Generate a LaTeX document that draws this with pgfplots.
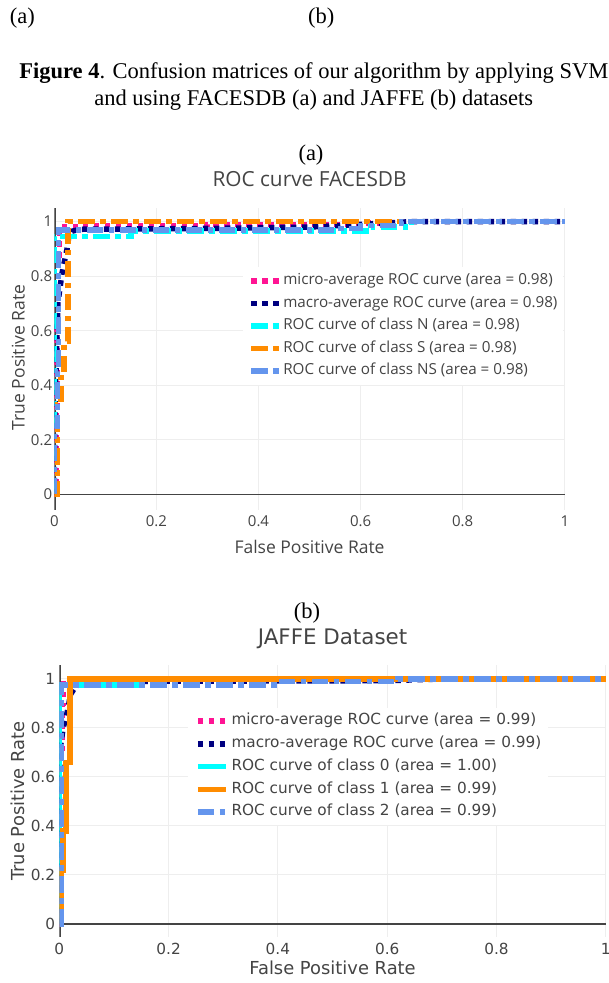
\documentclass[border=0pt]{standalone}
\usepackage{fontspec}
\setmainfont{Liberation Serif}
\newfontfamily\osans{Open Sans}
\newfontfamily\dvsans{DejaVu Sans}
\usepackage{pgfplots}
\pgfplotsset{compat=1.18}

\definecolor{txt}{HTML}{444444}
\definecolor{gridc}{HTML}{EEEEEE}
\definecolor{zc}{HTML}{444444}
\definecolor{dpink}{HTML}{FF1493}
\definecolor{navyc}{HTML}{000080}
\definecolor{aquac}{HTML}{00FFFF}
\definecolor{dorange}{HTML}{FF8C00}
\definecolor{cblue}{HTML}{6495ED}

\pgfplotsset{
  rocbase/.style={
    scale only axis, xmin=0, xmax=1, no markers,
    axis line style={draw=none}, tick style={draw=none}, major tick length=0pt,
    grid=major, major grid style={gridc, line width=1pt},
    xtick={0,0.2,0.4,0.6,0.8,1}, xticklabels={0,0.2,0.4,0.6,0.8,1},
    ytick={0,0.2,0.4,0.6,0.8,1}, yticklabels={0,0.2,0.4,0.6,0.8,1},
    legend cell align=left,
  },
  dotline/.style={line width=5.5pt, dash pattern=on 5.5pt off 5.5pt},
  ddline/.style={line width=5.5pt, dash pattern=on 16.5pt off 5.5pt on 5.5pt off 5.5pt},
  solline/.style={line width=5.5pt},
}

\begin{document}
\begin{tikzpicture}
\path[use as bounding box] (0pt,0pt) rectangle (609pt,983pt);

% page text above the charts
\node[anchor=base west, inner sep=0pt, font=\fontsize{22.5}{27}\selectfont] at (9.7pt,959pt) {(a)};
\node[anchor=base west, inner sep=0pt, font=\fontsize{22.5}{27}\selectfont] at (308pt,959pt) {(b)};
\node[anchor=base, inner sep=0pt, font=\fontsize{22.5}{27}\selectfont] at (313.8pt,904pt)
  {\textbf{Figure 4}. Confusion matrices of our algorithm by applying SVM};
\node[anchor=base, inner sep=0pt, font=\fontsize{22.5}{27}\selectfont] at (313.8pt,877pt)
  {and using FACESDB (a) and JAFFE (b) datasets};

\node[inner sep=0pt, font=\fontsize{22.5}{27}\selectfont] at (311pt,828pt) {(a)};
\node[inner sep=0pt, font=\fontsize{22.5}{27}\selectfont] at (307pt,370pt) {(b)};

% ---------- (a) FACESDB ----------
\begin{axis}[rocbase,
  at={(54.3pt,473pt)}, anchor=south west,
  width=510.5pt, height=302pt, ymin=-0.057, ymax=1.05,
  xticklabel style={font=\osans\fontsize{15}{15}\selectfont, text=txt, inner sep=0pt, yshift=-5.3pt},
  yticklabel style={font=\osans\fontsize{15}{15}\selectfont, text=txt, inner sep=0pt, anchor=east, xshift=-2pt},
  xlabel={False Positive Rate}, ylabel={True Positive Rate},
  xlabel style={font=\osans\fontsize{17.5}{17.5}\selectfont, text=txt, at={(axis description cs:0.5,-0.1214)}, anchor=center},
  ylabel style={font=\osans\fontsize{17.5}{17.5}\selectfont, text=txt, at={(axis description cs:-0.0705,0.505)}, anchor=center},
  title={ROC curve FACESDB},
  title style={font=\osans\fontsize{20.8}{20.8}\selectfont, text=txt, at={(axis description cs:0.5,1.0763)}, anchor=center},
  legend image code/.code={\draw[#1] (0pt,0pt) -- (28.3pt,0pt);},
  legend style={at={(0.3702,0.8066)}, anchor=north west, draw=none, fill=white,
    inner xsep=5pt, inner ysep=7pt, row sep=8pt, column sep=1pt,
    font=\osans\fontsize{15.2}{15.2}\selectfont, text=txt,
    nodes={inner sep=0pt, text height=11pt, text depth=3.5pt}},
]
\draw[zc, line width=2.6pt] (rel axis cs:0,0) -- (rel axis cs:0,1);
\draw[zc, line width=1.3pt] (axis cs:0,0) -- (axis cs:1,0);

\addplot[dpink, dotline] coordinates {(0,0) (0.003,0) (0.003,0.30) (0.005,0.30) (0.005,0.62) (0.008,0.62) (0.008,0.86) (0.01,0.86) (0.01,0.98) (0.05,0.98) (0.05,0.985) (0.3,0.985) (0.3,0.99) (0.6,0.99) (0.6,0.995) (0.68,0.995) (0.68,1) (1,1)};
\addlegendentry{micro-average ROC curve (area = 0.98)}
\addplot[navyc, dotline] coordinates {(0,0) (0.001,0.3) (0.004,0.5) (0.007,0.7) (0.015,0.81) (0.025,0.9) (0.028,0.94) (0.035,0.965) (0.05,0.972) (0.3,0.975) (0.5,0.98) (0.6,0.99) (0.7,1) (1,1)};
\addlegendentry{macro-average ROC curve (area = 0.98)}
\addplot[aquac, ddline] coordinates {(0,0) (0,0.945) (0.15,0.945) (0.15,0.965) (0.62,0.965) (0.62,0.98) (0.7,0.98) (0.7,1) (1,1)};
\addlegendentry{ROC curve of class N (area = 0.98)}
\addplot[dorange, ddline] coordinates {(0,0) (0.006,0) (0.006,0.33) (0.013,0.33) (0.013,0.44) (0.019,0.44) (0.019,0.56) (0.027,0.56) (0.027,1) (1,1)};
\addlegendentry{ROC curve of class S (area = 0.98)}
\addplot[cblue, ddline] coordinates {(0,0) (0,0.25) (0.006,0.25) (0.006,0.45) (0.008,0.45) (0.008,0.97) (0.55,0.97) (0.55,0.975) (0.6,0.975) (0.6,0.985) (0.68,0.985) (0.68,1) (1,1)};
\addlegendentry{ROC curve of class NS (area = 0.98)}
\end{axis}

% ---------- (b) JAFFE ----------
\begin{axis}[rocbase,
  at={(59.3pt,46.3pt)}, anchor=south west,
  width=546.5pt, height=271.7pt, ymin=-0.052, ymax=1.057,
  xticklabel style={font=\dvsans\fontsize{15.3}{15.3}\selectfont, text=txt, inner sep=0pt, yshift=-6pt},
  yticklabel style={font=\dvsans\fontsize{15.3}{15.3}\selectfont, text=txt, inner sep=0pt, anchor=east, xshift=-4pt},
  xlabel={False Positive Rate}, ylabel={True Positive Rate},
  xlabel style={font=\dvsans\fontsize{17.9}{17.9}\selectfont, text=txt, at={(axis description cs:0.5,-0.1163)}, anchor=center},
  ylabel style={font=\dvsans\fontsize{17.9}{17.9}\selectfont, text=txt, at={(axis description cs:-0.075,0.4994)}, anchor=center},
  title={JAFFE Dataset},
  title style={font=\dvsans\fontsize{21.4}{21.4}\selectfont, text=txt, at={(axis description cs:0.5,1.0736)}, anchor=center},
  legend image code/.code={\draw[#1] (0pt,0pt) -- (28.3pt,0pt);},
  legend style={at={(0.2355,0.8427)}, anchor=north west, draw=none, fill=white,
    inner xsep=7pt, inner ysep=6pt, row sep=8.25pt, column sep=2.5pt,
    font=\dvsans\fontsize{15.3}{15.3}\selectfont, text=txt,
    nodes={inner sep=0pt, text height=11pt, text depth=3.5pt}},
]
\draw[zc, line width=2.6pt] (rel axis cs:0,0) -- (rel axis cs:0,1);
\draw[zc, line width=1.3pt] (axis cs:0,0) -- (axis cs:1,0);

\addplot[dpink, dotline] coordinates {(0,0) (0.002,0) (0.002,0.35) (0.004,0.35) (0.004,0.7) (0.006,0.7) (0.006,0.9) (0.008,0.9) (0.008,1) (1,1)};
\addlegendentry{micro-average ROC curve (area = 0.99)}
\addplot[navyc, dotline] coordinates {(0,0) (0,0.55) (0.002,0.72) (0.007,0.8) (0.013,0.85) (0.017,0.89) (0.02,0.935) (0.03,0.97) (0.05,0.99) (0.6,0.993) (0.7,1) (1,1)};
\addlegendentry{macro-average ROC curve (area = 0.99)}
\addplot[aquac, solline] coordinates {(0,0) (0,0.975) (0.15,0.975) (0.15,1) (1,1)};
\addlegendentry{ROC curve of class 0 (area = 1.00)}
\addplot[dorange, solline] coordinates {(0,0) (0.003,0) (0.003,0.22) (0.007,0.22) (0.007,0.38) (0.012,0.38) (0.012,0.66) (0.02,0.66) (0.02,1) (1,1)};
\addlegendentry{ROC curve of class 1 (area = 0.99)}
\addplot[cblue, ddline] coordinates {(0,0) (0.003,0) (0.003,0.975) (0.4,0.975) (0.4,0.99) (0.62,0.99) (0.62,1) (1,1)};
\addlegendentry{ROC curve of class 2 (area = 0.99)}
\end{axis}
\end{tikzpicture}
\end{document}
